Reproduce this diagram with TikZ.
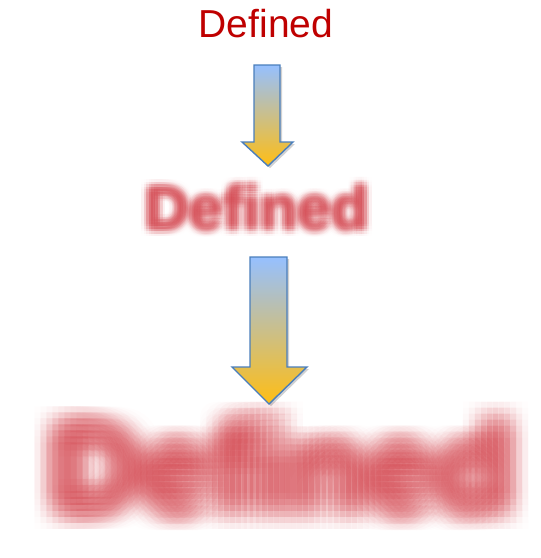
\documentclass[tikz,border=0pt]{standalone}
\usepackage{fontspec}
\setmainfont{Liberation Sans}
\begin{document}
\begin{tikzpicture}[x=1pt,y=-1pt,
  toptext/.style={inner sep=0pt,anchor=base,text=red!75!black,font=\fontsize{39}{39}\selectfont},
  blurtext/.style={inner sep=0pt,anchor=base,text={rgb,255:red,205;green,45;blue,55},font=\bfseries\fontsize{#1}{#1}\selectfont},
  blockarrow/.style={draw={rgb,255:red,74;green,126;blue,187},line width=1.4pt,line join=miter,
    top color={rgb,255:red,150;green,192;blue,255},bottom color={rgb,255:red,255;green,190;blue,20}},
  arrowshadow/.style={fill=black,opacity=0.18}]
\useasboundingbox (0,0) rectangle (541,558);
% top text
\node[toptext] (t1) at (266,37) {Defined};
% middle blurred text (gaussian-weighted copies)
\foreach \dx in {-7.5,-5,...,7.5}{
  \foreach \dy in {-7.5,-5,...,7.5}{
    \pgfmathsetmacro\op{0.12*exp(-(\dx*\dx+\dy*\dy)/32)}
    \node[blurtext=61,opacity=\op] (m\dx\dy) at (257+\dx,229+\dy) {Defined};
  }}
\coordinate (t2) at (257,229);
% bottom heavily blurred text
\foreach \dx in {-24,-18,...,24}{
  \foreach \dy in {-18,-12,...,18}{
    \pgfmathsetmacro\op{0.075*exp(-(\dx*\dx+\dy*\dy)/392)}
    \node[blurtext=126,opacity=\op] (b\dx\dy) at (282+\dx,511+\dy) {Defined};
  }}
\coordinate (t3) at (282,511);
% arrow 1
\fill[arrowshadow] (256,67) -- (282,67) -- (282,144) -- (295,144) -- (270,168) -- (244,144) -- (256,144) -- cycle;
\path[blockarrow] (254,65) -- (280,65) -- (280,142) -- (293,142) -- (268,166) -- (242,142) -- (254,142) -- cycle;
% arrow 2
\fill[arrowshadow] (252,259) -- (289,259) -- (289,369) -- (309,369) -- (271,406) -- (234,369) -- (252,369) -- cycle;
\path[blockarrow] (250,257) -- (287,257) -- (287,367) -- (307,367) -- (269,404) -- (232,367) -- (250,367) -- cycle;
\end{tikzpicture}
\end{document}
